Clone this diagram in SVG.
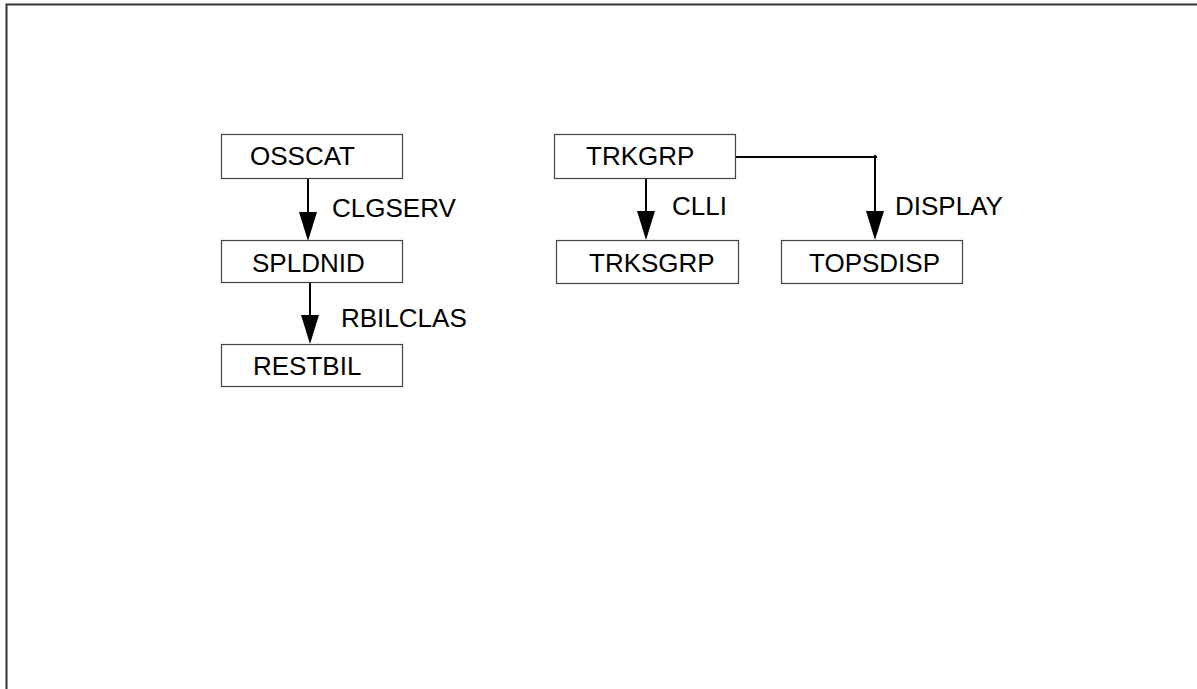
<svg xmlns="http://www.w3.org/2000/svg" width="1197" height="689" viewBox="0 0 1197 689">
<style>
.box{fill:#fff;stroke:#444;stroke-width:1.2}
.t{font-family:"Liberation Sans",Arial,sans-serif;font-size:26px;fill:#000}
.c{fill:none;stroke:#000;stroke-width:2}
.ah{fill:#000}
</style>
<rect width="1197" height="689" fill="#fff"/>
<path d="M6.5,689 V4.5 H1197" fill="none" stroke="#333" stroke-width="2"/>
<g id="connectors">
<line class="c" x1="308" y1="178" x2="308" y2="213"/>
<path class="ah" d="M299,212 L317,212 L308,241 Z"/>
<line class="c" x1="310" y1="283" x2="310" y2="316"/>
<path class="ah" d="M301,315 L319,315 L310,344 Z"/>
<line class="c" x1="646" y1="178" x2="646" y2="212"/>
<path class="ah" d="M637,211 L655,211 L646,240 Z"/>
<path class="c" d="M735,157 H877 M875,155 V212"/>
<path class="ah" d="M866,211 L884,211 L875,240 Z"/>
<text class="t" x="332" y="217">CLGSERV</text>
<text class="t" x="341" y="327">RBILCLAS</text>
<text class="t" x="672" y="215">CLLI</text>
<text class="t" x="895" y="215">DISPLAY</text>
</g>
<g id="osscat"><rect class="box" x="221.5" y="134.5" width="181" height="44"/><text class="t" x="250" y="165">OSSCAT</text></g>
<g id="spldnid"><rect class="box" x="221.5" y="240.5" width="181" height="42"/><text class="t" x="252" y="272">SPLDNID</text></g>
<g id="restbil"><rect class="box" x="221.5" y="344.5" width="181" height="42"/><text class="t" x="253" y="375">RESTBIL</text></g>
<g id="trkgrp"><rect class="box" x="554.5" y="134.5" width="181" height="44"/><text class="t" x="586" y="165">TRKGRP</text></g>
<g id="trksgrp"><rect class="box" x="556.5" y="240.5" width="182" height="43"/><text class="t" x="589" y="272">TRKSGRP</text></g>
<g id="topsdisp"><rect class="box" x="781.5" y="240.5" width="181" height="43"/><text class="t" x="809" y="272">TOPSDISP</text></g>
</svg>
